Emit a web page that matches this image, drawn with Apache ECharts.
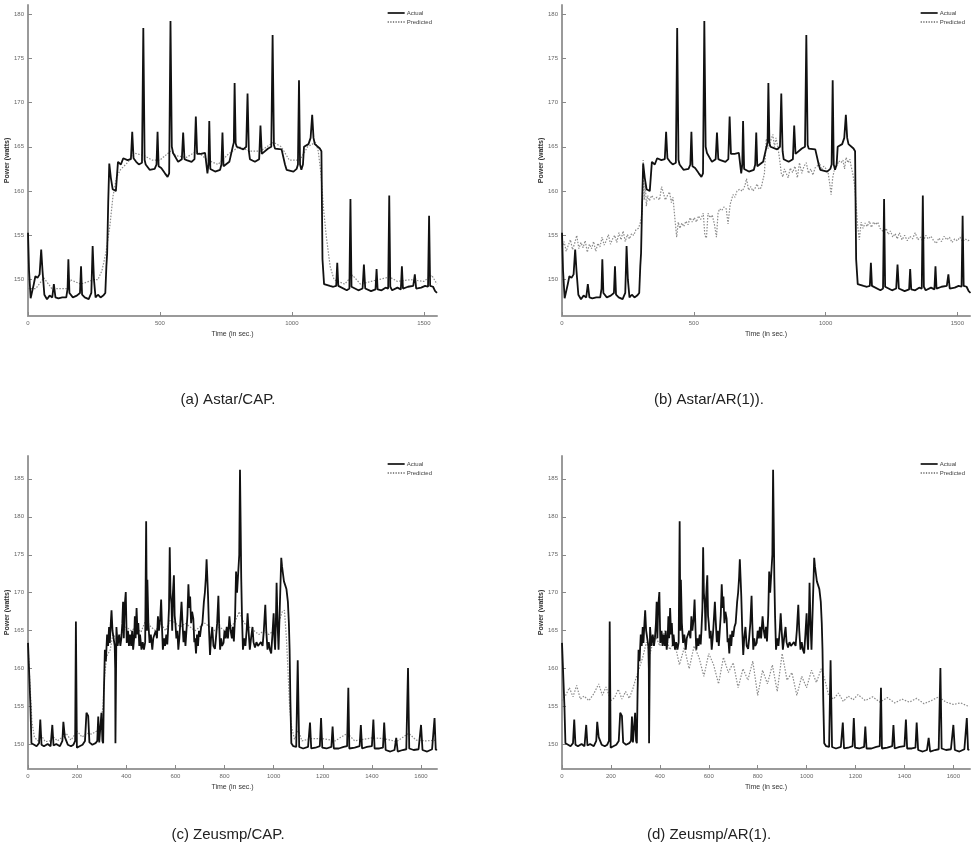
<!DOCTYPE html>
<html><head><meta charset="utf-8">
<script src="https://cdn.jsdelivr.net/npm/echarts@6/dist/echarts.min.js"></script>
<style>html,body{margin:0;padding:0;background:#fff}#c{width:971px;height:850px}</style>
</head><body><div id="c"></div>
<script>
// ---- data (time in sec, power in watts) ----
const astarTicksX = [0, 500, 1000, 1500];
const astarTicksY = [150, 155, 160, 165, 170, 175, 180];
const zeusTicksX = [0, 200, 400, 600, 800, 1000, 1200, 1400, 1600];
const zeusTicksY = [150, 155, 160, 165, 170, 175, 180, 185];

const astarActual = [[0,155.3],[4,151],[10,147.9],[16,147.8],[22,149.5],[28,150.4],[36,150.2],[44,150.6],[50,153.4],[55,151],[62,148.3],[72,147.8],[82,148.2],[92,148],[98,149.5],[104,148],[115,147.9],[130,148],[145,148],[150,149],[153,152.3],[157,148.5],[170,148],[185,148.2],[197,148.5],[201,151.5],[205,148.3],[215,148],[230,147.8],[240,148.5],[245,153.8],[250,150],[256,148],[265,148.3],[275,148],[285,148.2],[293,148.5],[297,151.5],[300,153],[304,158.7],[308,163.1],[314,161.5],[321,160.2],[333,160],[341,163.3],[352,163],[361,163.7],[377,163.5],[390,163.6],[395,166.7],[400,163.7],[410,163.3],[420,163],[432,163.2],[437,178.4],[442,163.5],[446,163],[461,162.4],[480,162.5],[487,163],[491,166.7],[495,162.8],[505,162.6],[519,162],[529,161.6],[535,162],[540,179.2],[545,165],[550,164.3],[569,163.3],[583,163.6],[588,166.6],[593,163.6],[601,163.5],[620,163.3],[631,163.6],[636,168.4],[641,164.2],[655,164.2],[671,164.3],[680,162],[684,163],[687,167.9],[691,162.5],[696,162.4],[709,162.2],[728,162.4],[733,163],[737,166.6],[741,162.8],[746,162.7],[763,163.3],[776,165],[780,165.5],[783,172.2],[787,165.4],[791,165],[816,164.7],[827,165],[832,171],[837,164.5],[841,163.6],[860,163.3],[876,163.6],[881,167.4],[886,164.2],[891,164.2],[910,164.8],[922,165],[927,177.6],[932,165.2],[936,164.8],[961,164.7],[968,164.5],[974,163],[980,162.4],[1006,162.2],[1018,162.5],[1023,163],[1027,172.5],[1031,163],[1036,162.4],[1042,163],[1046,165],[1063,165.3],[1071,166],[1077,168.6],[1082,166],[1087,165.3],[1106,164.8],[1112,164.5],[1116,152.3],[1122,149.5],[1144,149.3],[1157,149.2],[1168,149.3],[1172,151.9],[1176,149.3],[1182,149.2],[1208,148.8],[1218,149],[1222,159.1],[1226,149.2],[1233,149],[1252,148.8],[1268,149],[1273,151.7],[1278,149],[1283,148.8],[1300,148.7],[1317,148.9],[1321,151.2],[1325,148.9],[1340,148.8],[1355,149.1],[1365,149],[1369,159.5],[1373,149.2],[1380,148.8],[1400,149.1],[1413,148.9],[1417,151.5],[1421,149],[1440,149.2],[1460,149.3],[1466,150.6],[1471,149],[1490,149.1],[1505,149.3],[1516,149.2],[1520,157.2],[1524,149.3],[1535,149.2],[1543,148.7],[1550,148.5]];

const astarCapPred = [[0,149],[30,149],[60,150.2],[90,149],[150,149],[160,150],[200,149.5],[250,150],[265,150],[280,151],[295,153],[310,156],[322,159.4],[335,161.5],[350,162.4],[380,163.3],[400,164.3],[440,164],[470,163.5],[500,163.5],[540,164.5],[560,164],[600,163.8],[640,164.5],[680,163.5],[720,163],[760,164.2],[800,165],[840,164.5],[880,164.5],[930,165.5],[960,165],[990,163.5],[1030,163.5],[1060,165],[1090,165.5],[1100,164.5],[1110,162],[1120,158],[1130,155],[1145,151.5],[1160,150],[1200,149.5],[1230,150.5],[1260,149.5],[1300,149.8],[1370,150.3],[1400,149.8],[1450,150],[1500,149.8],[1530,150.5],[1550,149.5]];

const astarArPred = [[0,153.6],[8,154.3],[16,153.2],[24,153.9],[32,154.5],[40,153.4],[48,154.1],[56,155],[64,153.5],[72,154.2],[80,153.6],[88,154.4],[96,153.1],[104,154],[112,153.5],[120,154.3],[128,153.2],[136,154.1],[144,153.7],[152,154.8],[160,153.9],[168,154.4],[176,155.1],[184,154],[192,154.6],[200,155],[208,154.2],[216,155.3],[224,154.5],[232,155.5],[240,154.3],[248,155.1],[256,154.6],[264,155.2],[272,155],[280,155.6],[290,155.8],[298,156.5],[304,157.5],[308,163.5],[312,159],[316,161],[320,158.3],[325,159.5],[332,158.9],[340,159.5],[350,159.1],[360,159.3],[370,159],[378,160.5],[384,160.7],[392,159],[400,159.5],[408,159.9],[415,158.7],[421,159.3],[428,157],[435,154.8],[441,156.5],[447,155.8],[455,156.4],[462,156],[470,156.6],[478,156.2],[486,157],[494,156.5],[502,157],[510,156.5],[518,157.2],[526,156.8],[536,157.5],[542,155],[548,154.7],[554,157.5],[562,157],[570,157.3],[578,156.3],[586,154.8],[592,157.5],[598,158],[606,157.8],[614,158.2],[623,158],[630,156.3],[638,158.5],[649,159.6],[656,159.3],[664,160],[674,160.2],[684,160],[694,160.6],[700,161.4],[708,160.1],[716,160.5],[724,160],[732,160.3],[740,160.8],[748,160.2],[756,160.4],[763,160.3],[768,162],[775,165.9],[782,164.8],[790,165.5],[800,166.4],[806,165],[812,166],[819,165],[826,163.5],[832,162],[838,161.6],[844,162.5],[850,162.4],[858,161.5],[866,162.6],[875,162.1],[884,162.8],[893,161.5],[901,163.2],[910,162],[918,162.8],[927,163.2],[935,162],[944,162.5],[952,161.8],[960,162.6],[968,162.8],[977,163.2],[985,162.4],[993,162.8],[1002,162.5],[1010,162],[1016,160.8],[1021,159.6],[1027,161.5],[1034,162.5],[1042,162.8],[1050,163.4],[1059,163.2],[1066,163.5],[1072,162.5],[1078,163.8],[1085,163.2],[1092,163.6],[1097,162.8],[1103,162],[1110,160.7],[1116,158.5],[1122,156],[1128,154.5],[1135,156.5],[1142,155.8],[1150,156.4],[1158,156],[1166,156.6],[1174,155.9],[1182,156.5],[1190,156.2],[1198,156.5],[1206,155.8],[1214,155.6],[1222,155.3],[1230,155.8],[1238,155.1],[1246,155.5],[1255,154.8],[1264,155.2],[1272,154.6],[1280,155.3],[1290,154.5],[1300,155],[1310,154.4],[1320,154.9],[1330,154.6],[1340,155.3],[1350,154.5],[1360,154.8],[1370,154.3],[1380,155],[1390,154.6],[1400,154.9],[1410,154.4],[1420,154.1],[1430,154.7],[1440,154.3],[1450,154.9],[1460,154.5],[1470,154.8],[1480,154.2],[1490,154.6],[1500,154.4],[1510,154.8],[1520,154.3],[1530,154.6],[1540,154.4],[1548,154.5]];

const zeusActual = [[0,163.4],[4,163.4],[10,155],[14,150.2],[25,150],[35,149.8],[45,150.2],[50,153.3],[55,150],[65,149.8],[80,150.1],[92,149.8],[99,152.6],[104,149.9],[115,150.1],[130,149.8],[140,150.5],[144,153],[150,151],[156,151.2],[162,150],[175,149.8],[185,150],[192,150.5],[195,166.2],[199,149.6],[210,149.8],[222,150],[232,150.5],[238,154.2],[245,153.8],[250,150.3],[262,150],[275,150.2],[282,150.5],[286,153.7],[290,150.3],[295,150.5],[299,154.2],[303,150.5],[306,150.2],[309,157],[313,162.5],[317,161],[322,164.5],[326,163],[330,165.5],[333,163.4],[337,166],[340,167.7],[344,165],[349,165],[353,163],[355,160],[356,150.2],[358,158],[360,165.5],[365,163],[371,164.5],[376,163],[380,164],[384,166],[387,168.8],[390,164],[393,168],[398,170.1],[402,163.4],[407,165],[411,163],[415,164.5],[420,163],[424,165],[428,162.5],[432,164],[435,166.9],[438,164],[442,168],[446,164.5],[449,166],[453,163],[456,164.5],[462,162.5],[467,163.5],[472,162.5],[477,163.5],[481,179.4],[484,165],[486,171.7],[490,166],[495,163.4],[500,164.5],[506,162.5],[510,164],[515,163.8],[520,165],[525,164],[529,166.9],[533,165],[538,166.5],[542,169.1],[546,165],[549,162.5],[554,164],[558,163],[563,164.5],[567,163.2],[570,165],[574,168],[577,176],[580,170],[584,168.5],[587,165],[590,170],[594,172.3],[597,167],[600,166],[604,164],[608,165],[612,162.5],[616,164],[620,166],[625,168.8],[629,166],[633,163.5],[637,165],[641,163],[645,165],[649,167],[653,171.1],[657,168],[660,169.5],[664,166],[668,167.5],[673,166.6],[677,163.5],[680,164],[684,162],[688,164.5],[692,163],[696,165],[700,164.2],[705,165.5],[710,166],[716,168.8],[720,170],[724,172],[727,174.4],[730,172],[733,169.5],[737,165],[741,161.8],[745,164],[750,165.5],[755,163],[761,162.6],[765,164],[770,166],[775,169.6],[778,166],[782,162.5],[786,164],[790,163],[796,163.4],[800,165],[805,164],[809,165.5],[814,164],[820,166.9],[825,165],[830,164],[834,165.5],[838,163.6],[843,167],[847,172.8],[851,170],[856,170.1],[860,175],[863,186.2],[866,178],[868,172],[871,167],[875,162.5],[880,164],[885,163],[890,165],[894,167.3],[898,165],[903,162.5],[908,164],[914,165.5],[918,163.5],[924,162.8],[930,163.5],[936,163],[943,162.8],[948,163.5],[955,163],[960,165],[966,168.4],[970,165],[975,162.5],[980,163.5],[985,162.5],[990,162],[995,164.5],[1000,167.3],[1003,164],[1006,162.5],[1009,166],[1012,171.3],[1016,166],[1020,162.5],[1025,168],[1031,174.6],[1034,173.5],[1038,172.5],[1042,171.5],[1047,171],[1052,170.5],[1058,168.8],[1062,166],[1065,162.5],[1068,156],[1072,150.2],[1080,149.8],[1092,149.7],[1098,161.1],[1104,149.7],[1120,149.5],[1140,149.7],[1148,152.9],[1153,149.5],[1170,149.6],[1188,149.8],[1193,153.5],[1198,149.6],[1215,149.5],[1235,149.7],[1240,152.4],[1245,149.5],[1265,149.5],[1285,149.7],[1299,149.8],[1304,157.5],[1308,149.5],[1330,149.6],[1350,149.8],[1355,152.6],[1360,149.5],[1380,149.7],[1400,149.8],[1406,153.3],[1411,149.5],[1430,149.5],[1445,149.6],[1450,152.9],[1456,149.3],[1475,149.1],[1492,149.3],[1499,150.9],[1505,149.1],[1525,149.3],[1540,149.4],[1547,160.1],[1552,149.5],[1570,149.3],[1590,149.4],[1600,152.6],[1606,149.3],[1625,149.1],[1645,149.4],[1655,153.5],[1660,149.3],[1665,149.4]];

const zeusCapPred = [[0,163],[8,158],[16,153],[26,151],[40,150.5],[55,151.2],[70,150.4],[90,150.5],[104,151],[120,150.5],[140,151],[155,151.5],[175,150.6],[200,151.8],[220,151],[240,151.5],[260,151.4],[280,151.8],[295,152.5],[305,155],[312,159],[320,161.6],[335,162.5],[345,164.5],[360,164],[380,164.5],[400,165.5],[420,165],[440,165.5],[460,164.8],[480,166.5],[500,165.5],[520,165],[540,166],[560,165],[580,166.5],[600,166],[620,165.5],[640,166],[660,165.5],[680,165],[700,165.5],[720,166],[740,165.5],[760,165],[780,165.5],[800,165],[820,165.5],[840,166],[860,167.5],[880,166],[900,165.5],[920,165],[940,164.5],[960,165],[980,164.5],[1000,165],[1020,166],[1035,167.5],[1044,167.7],[1052,164],[1058,160],[1065,155],[1072,152.5],[1085,150.7],[1100,152],[1115,150.5],[1150,150.8],[1200,150.8],[1250,150.5],[1300,151.5],[1330,150.5],[1400,150.9],[1450,150.8],[1500,150.4],[1550,151.5],[1580,150.6],[1620,150.5],[1665,150.6]];

const zeusArPred = [[0,155.8],[15,156.5],[30,157.5],[45,156.3],[60,157.8],[75,156],[90,156.4],[110,155.8],[130,156.7],[150,158],[165,156.5],[180,157.6],[200,155.8],[215,156.2],[230,157.3],[245,156],[260,157],[275,156.1],[290,157.4],[300,158.5],[315,160],[330,161.5],[345,163.5],[360,162],[380,164.5],[400,163],[420,165],[440,162.5],[460,163.5],[480,160.5],[500,162.8],[520,160],[540,163],[560,161.5],[580,159],[600,162],[620,160.5],[640,158],[660,161.5],[680,159.5],[700,160.8],[720,157.5],[740,160],[760,158.5],[780,161],[800,156.5],[820,159.8],[840,158],[860,160.5],[880,157],[900,162],[920,158.5],[940,159.5],[960,156.5],[980,159],[1000,157.5],[1020,159.8],[1040,158.2],[1060,160],[1075,158.5],[1090,156.5],[1110,156],[1130,156.8],[1150,155.7],[1170,156.4],[1190,155.9],[1210,156.6],[1240,155.8],[1270,156.3],[1300,155.6],[1330,156.2],[1360,155.5],[1390,156],[1420,155.6],[1450,156.1],[1480,155.4],[1510,155.8],[1540,156.3],[1570,155.6],[1600,155.3],[1630,155.5],[1665,155]];

const captions = ['(a) Astar/CAP.', '(b) Astar/AR(1)).', '(c) Zeusmp/CAP.', '(d) Zeusmp/AR(1).'];

// ---- chart ----
const chart = echarts.init(document.getElementById('c'), null, {renderer: 'canvas'});
const FONT = 'Liberation Sans';
const grids = [
  {left: 28, top: 5, width: 409, height: 311},
  {left: 562, top: 5, width: 408, height: 311},
  {left: 28, top: 456, width: 409, height: 313},
  {left: 562, top: 456, width: 408, height: 313}
];
const xCfg = [
  {max: 1550, ticks: astarTicksX},
  {max: 1548, ticks: astarTicksX},
  {max: 1665, ticks: zeusTicksX},
  {max: 1668, ticks: zeusTicksX}
];
const yCfg = [
  {min: 145.9, max: 181, ticks: astarTicksY},
  {min: 145.9, max: 181, ticks: astarTicksY},
  {min: 146.8, max: 188, ticks: zeusTicksY},
  {min: 146.8, max: 188, ticks: zeusTicksY}
];
const plain = v => String(Math.round(v));
const axisLine = {lineStyle: {color: '#9a9a9a', width: 2}};
const xAxis = xCfg.map((c, i) => ({
  type: 'value', gridIndex: i, min: 0, max: c.max,
  name: 'Time (in sec.)', nameLocation: 'middle', nameGap: 15,
  nameTextStyle: {fontFamily: FONT, fontSize: 7, color: '#333'},
  axisLine: axisLine,
  axisTick: {inside: true, length: 4, lineStyle: {color: '#888'}, customValues: c.ticks},
  axisLabel: {fontFamily: FONT, fontSize: 6, color: '#666', margin: 4, customValues: c.ticks, formatter: plain},
  splitLine: {show: false}
}));
const yAxis = yCfg.map((c, i) => ({
  type: 'value', gridIndex: i, min: c.min, max: c.max,
  name: 'Power (watts)', nameLocation: 'middle', nameGap: 17, nameRotate: 90,
  nameTextStyle: {fontFamily: FONT, fontSize: 7, color: '#333', fontWeight: 'bold'},
  axisLine: axisLine,
  axisTick: {inside: true, length: 4, lineStyle: {color: '#888'}, customValues: c.ticks},
  axisLabel: {fontFamily: FONT, fontSize: 6, color: '#666', margin: 4, customValues: c.ticks, formatter: plain},
  splitLine: {show: false}
}));
const actualStyle = {color: '#111', width: 1.8};
const predStyle = {color: '#8a8a8a', width: 1.2, type: [1.5, 1.5]};
const pairs = [
  [astarActual, astarCapPred],
  [astarActual, astarArPred],
  [zeusActual, zeusCapPred],
  [zeusActual, zeusArPred]
];
const series = [];
pairs.forEach((p, i) => {
  series.push({type: 'line', name: 'Predicted', xAxisIndex: i, yAxisIndex: i, data: p[1],
    showSymbol: false, symbol: 'none', lineStyle: predStyle, itemStyle: {color: '#8a8a8a'}, z: 2});
  series.push({type: 'line', name: 'Actual', xAxisIndex: i, yAxisIndex: i, data: p[0],
    showSymbol: false, symbol: 'none', lineStyle: actualStyle, itemStyle: {color: '#111'}, z: 3});
});
const solidIcon = 'path://M0,0H20V2H0Z';
const dotIcon = 'path://M0,0H1.4V2H0Z M3,0H4.4V2H3Z M6,0H7.4V2H6Z M9,0H10.4V2H9Z M12,0H13.4V2H12Z M15,0H16.4V2H15Z M18,0H19.4V2H18Z';
const legendPos = [
  {right: 534, top: 5},
  {right: 1, top: 5},
  {right: 534, top: 456},
  {right: 1, top: 456}
];
const legend = legendPos.map(p => ({
  right: p.right, top: p.top, orient: 'vertical', itemGap: 3, itemWidth: 17, itemHeight: 2,
  data: [{name: 'Actual', icon: solidIcon}, {name: 'Predicted', icon: dotIcon}], selectedMode: false,
  textStyle: {fontFamily: FONT, fontSize: 6, color: '#444', padding: [0, 0, 0, -3]}
}));
const capPos = [[228, 400], [709, 400], [228, 835], [709, 835]];
const graphic = captions.map((t, i) => ({
  type: 'text', x: capPos[i][0], y: capPos[i][1],
  style: {text: t, font: '15px "Liberation Sans"', fill: '#222', align: 'center', verticalAlign: 'middle'}
}));
chart.setOption({
  animation: false,
  backgroundColor: '#fff',
  grid: grids,
  xAxis: xAxis,
  yAxis: yAxis,
  legend: legend,
  series: series,
  graphic: graphic
});
</script>
</body></html>
